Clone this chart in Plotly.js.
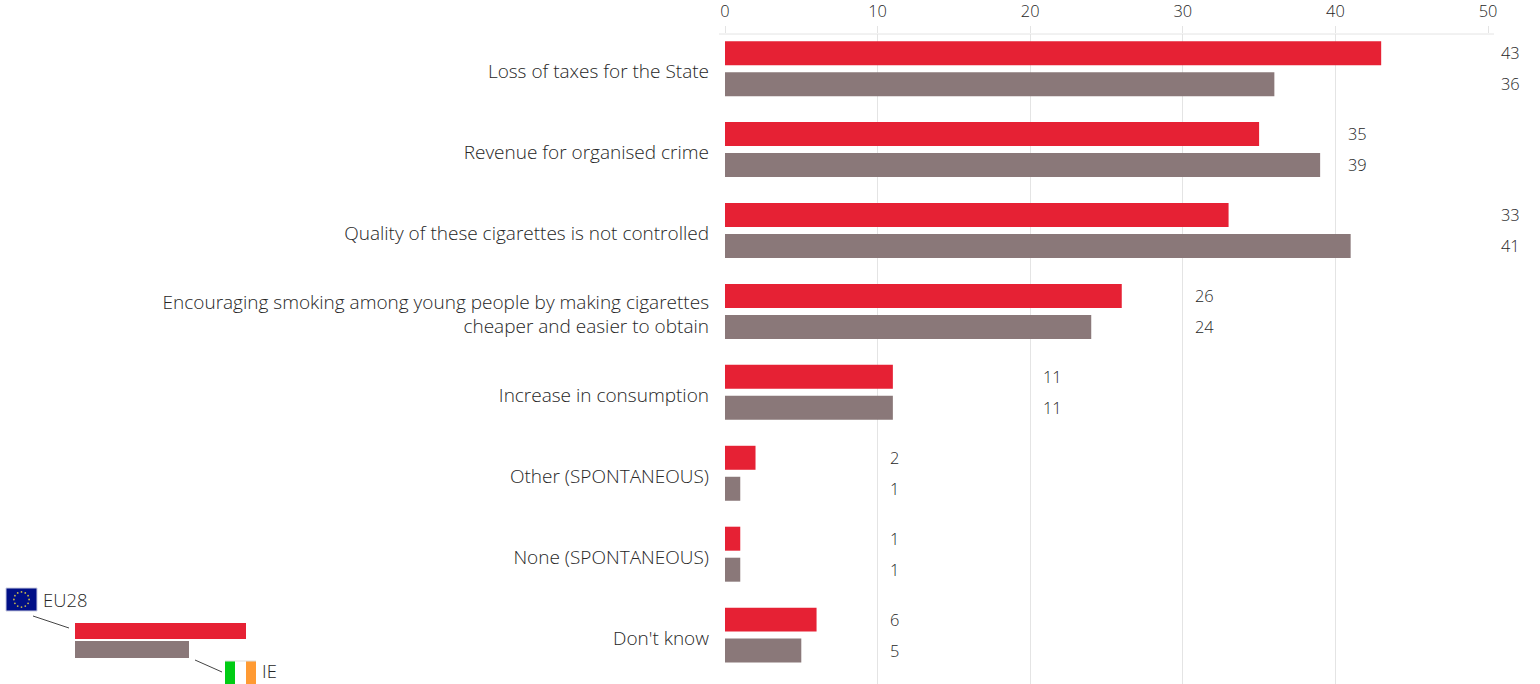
<!DOCTYPE html>
<html>
<head>
<meta charset="utf-8">
<script src="https://cdn.plot.ly/plotly-3.0.1.min.js"></script>
<style>html,body{margin:0;padding:0;background:#fff}#chart{width:1540px;height:684px}</style>
</head>
<body>
<div id="chart"></div>
<script>
// Reasons given against illicit cigarettes, EU28 vs Ireland (%)
const categories = [
  "Loss of taxes for the State",
  "Revenue for organised crime",
  "Quality of these cigarettes is not controlled",
  "Encouraging smoking among young people by making cigarettes<br>cheaper and easier to obtain",
  "Increase in consumption",
  "Other (SPONTANEOUS)",
  "None (SPONTANEOUS)",
  "Don't know"
];
const eu28 = [43, 35, 33, 26, 11, 2, 1, 6];
const ie = [36, 39, 41, 24, 11, 1, 1, 5];
const xTicks = [0, 10, 20, 30, 40, 50];
const xMax = 50;

const RED = "#e62134", GREY = "#8a7879", INK = "#262626", GRID = "#e4e4e4";
const FONT = "Open Sans, sans-serif";
const W = 1540, H = 684, L = 725, R = 1488, T = 34, B = 684;
const px = v => (v - L) / (R - L);
const py = v => 1 - (v - T) / (B - T);

const rect = (x0, y0, x1, y1, fill, line) => ({
  type: "rect", xref: "paper", yref: "paper", layer: "above",
  x0: px(x0), x1: px(x1), y0: py(y0), y1: py(y1),
  fillcolor: fill, line: line ? {color: line, width: 1} : {width: 0}
});
const seg = (x0, y0, x1, y1, color, width) => ({
  type: "line", xref: "paper", yref: "paper", layer: "above",
  x0: px(x0), x1: px(x1), y0: py(y0), y1: py(y1),
  line: {color, width}
});

// Key in the lower-left corner: sample bars, leader lines and flags
const shapes = [
  seg(719, 34, 1494, 34, GRID, 1),
  rect(75, 623, 246, 639, RED),
  rect(75, 641, 189, 658, GREY),
  seg(33, 616, 69, 628, "#444", 1),
  seg(195, 660, 222, 672, "#444", 1),
  rect(6, 588, 37, 611, "#000f86", "#c8cbe0"),
  rect(225, 661, 235, 684, "#00cc14"),
  rect(235, 661, 246, 684, "#ffffff"),
  rect(246, 661, 256, 684, "#ff9a33"),
  seg(225, 661, 256, 661, "#dddddd", 1)
];
// Ring of twelve stars on the EU flag
for (let i = 0; i < 12; i++) {
  const a = i * Math.PI / 6, cx = 21.5 + 7.6 * Math.cos(a), cy = 599.5 + 7.6 * Math.sin(a);
  shapes.push({
    type: "circle", xref: "paper", yref: "paper", layer: "above",
    x0: px(cx - 0.9), x1: px(cx + 0.9), y0: py(cy + 0.9), y1: py(cy - 0.9),
    fillcolor: "#c9b84a", line: {width: 0}
  });
}

const textNote = (x, y, text) => ({
  xref: "paper", yref: "paper", x: px(x), y: py(y), text, showarrow: false,
  xanchor: "left", yanchor: "middle", font: {family: FONT, size: 18.4, weight: 300, color: INK}
});

// Value labels sit just past the next gridline above the larger of the pair
const valueNote = (cat, i, value, shift) => ({
  xref: "paper", yref: "y",
  x: (Math.ceil(Math.max(eu28[i], ie[i]) / 10) * 10 + 0.7) / xMax, y: cat,
  yshift: shift, text: String(value), showarrow: false, xanchor: "left", yanchor: "middle",
  font: {family: FONT, size: 16.4, weight: 300, color: INK}
});

const annotations = [textNote(41, 599, "EU28"), textNote(260, 670.5, "IE")];
categories.forEach((c, i) => {
  annotations.push(valueNote(c, i, eu28[i], 16));
  annotations.push(valueNote(c, i, ie[i], -15));
});

const traces = [
  {type: "bar", orientation: "h", name: "EU28", y: categories, x: eu28, marker: {color: RED}, hoverinfo: "x+y"},
  {type: "bar", orientation: "h", name: "IE", y: categories, x: ie, marker: {color: GREY}, hoverinfo: "x+y"}
];

const layout = {
  width: W, height: H,
  margin: {l: L, r: W - R, t: T, b: H - B, pad: 0},
  paper_bgcolor: "#fff", plot_bgcolor: "#fff",
  barmode: "group", bargap: 0.234, bargroupgap: 0.226,
  showlegend: false,
  font: {family: FONT, color: INK},
  xaxis: {
    side: "top", range: [0, xMax], tickvals: xTicks, ticktext: xTicks.map(String),
    showgrid: true, gridcolor: GRID, gridwidth: 1, zeroline: false, showline: false,
    ticks: "outside", ticklen: 7, tickcolor: GRID, tickwidth: 1, ticklabelstandoff: 2,
    tickfont: {family: FONT, size: 16.4, weight: 300, color: INK}
  },
  yaxis: {
    type: "category", categoryorder: "array", categoryarray: categories,
    range: [7.604, -0.428], showgrid: false, zeroline: false, showline: false,
    ticks: "", ticklabelstandoff: 15, ticklabelshift: -3,
    tickfont: {family: FONT, size: 19, weight: 300, color: INK}
  },
  shapes, annotations
};

Plotly.newPlot("chart", traces, layout, {displayModeBar: false, staticPlot: true});
</script>
</body>
</html>
